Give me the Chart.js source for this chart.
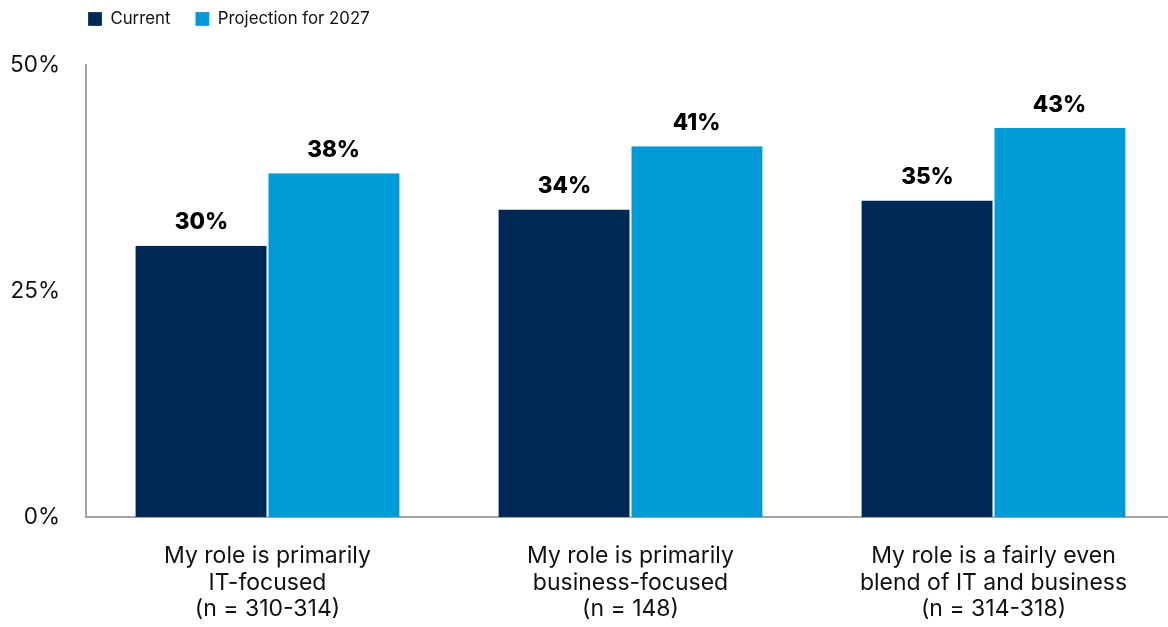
<!DOCTYPE html>
<html>
<head>
<meta charset="utf-8">
<script src="https://cdn.jsdelivr.net/npm/chart.js@4"></script>
<style>
  html, body { margin: 0; padding: 0; background: #fff; overflow: hidden; }
  #wrap { width: 1175px; height: 627px; }
</style>
</head>
<body>
<div id="wrap"><canvas id="myChart"></canvas></div>
<script>
const categories = [
  ["My role is primarily", "IT-focused", "(n = 310-314)"],
  ["My role is primarily", "business-focused", "(n = 148)"],
  ["My role is a fairly even", "blend of IT and business", "(n = 314-318)"],
];
const currentValues = [30, 34, 35];
const projectionValues = [38, 41, 43];

// bold value labels above each bar
const barLabels = {
  id: "barLabels",
  afterDatasetsDraw(chart) {
    const ctx = chart.ctx;
    ctx.save();
    ctx.font = "800 22.5px Inter";
    ctx.fillStyle = "#000";
    ctx.textAlign = "center";
    ctx.textBaseline = "middle";
    chart.data.datasets.forEach((ds, i) => {
      chart.getDatasetMeta(i).data.forEach((bar, j) => {
        ctx.fillText(ds.data[j] + "%", bar.x, bar.y - 23);
      });
    });
    ctx.restore();
  },
};

// extra room under the legend, and legend pulled to the axis
const legendSpace = {
  id: "legendSpace",
  beforeInit(chart) {
    const fit = chart.legend.fit;
    chart.legend.fit = function () {
      fit.bind(chart.legend)();
      this.height += 11;
    };
  },
  beforeDraw(chart) {
    chart.legend.left = chart.chartArea.left - 23;
    chart.legend.top = -14.5;
  },
};

new Chart("myChart", {
  type: "bar",
  data: {
    labels: categories,
    datasets: [
      {
        label: "Current",
        data: currentValues,
        backgroundColor: "#002856",
        borderColor: "#fff",
        borderWidth: { left: 0, right: 1, top: 0, bottom: 0 },
      },
      {
        label: "Projection for 2027",
        data: projectionValues,
        backgroundColor: "#009ad7",
        borderColor: "#fff",
        borderWidth: { left: 1, right: 0, top: 0, bottom: 0 },
      },
    ],
  },
  options: {
    responsive: true,
    maintainAspectRatio: false,
    animation: false,
    layout: { padding: { left: 0, right: 0, top: 2, bottom: 0 } },
    datasets: {
      bar: { categoryPercentage: 0.728, barPercentage: 1 },
    },
    scales: {
      x: {
        grid: { display: false, drawTicks: false },
        border: { color: "#a0a4a6", width: 2 },
        ticks: {
          color: "#111",
          font: { family: "Inter", size: 23, lineHeight: 1.15 },
          padding: 26,
          maxRotation: 0,
        },
        afterFit(scale) {
          scale.height = 110;
        },
      },
      y: {
        min: 0,
        max: 50,
        grid: { display: false, drawTicks: false },
        border: { color: "#a0a4a6", width: 2 },
        ticks: {
          stepSize: 25,
          color: "#111",
          font: { family: "Inter", size: 22.5 },
          padding: 26,
          callback: (v) => v + "%",
        },
        afterFit(scale) {
          scale.width = 86;
        },
      },
    },
    plugins: {
      legend: {
        display: true,
        position: "top",
        align: "start",
        fullSize: false,
        labels: {
          boxWidth: 14,
          boxHeight: 14,
          padding: 25,
          color: "#111",
          font: { family: "Inter", size: 16.8 },
        },
      },
      tooltip: { enabled: false },
    },
  },
  plugins: [barLabels, legendSpace],
});
</script>
</body>
</html>
